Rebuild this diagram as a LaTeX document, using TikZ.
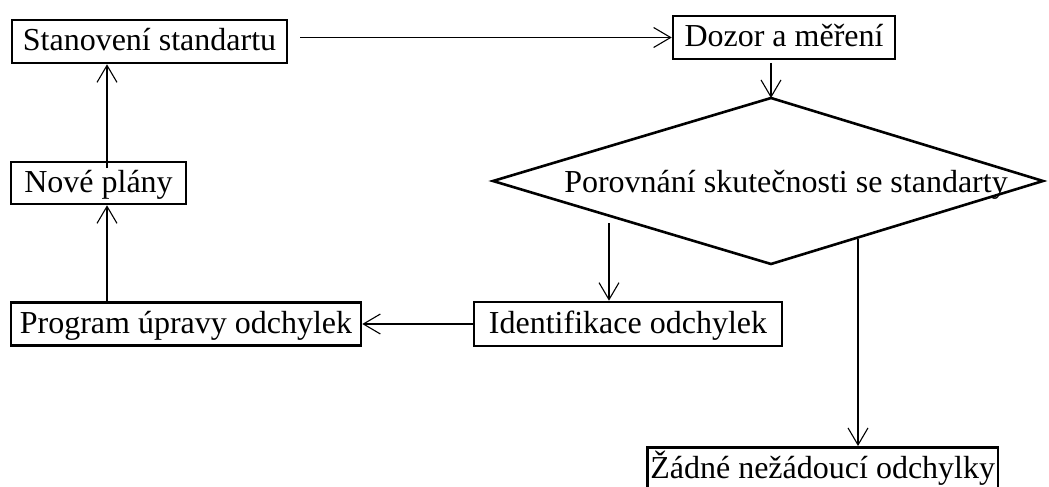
\documentclass[tikz,border=0pt]{standalone}
\usepackage{fontspec}
\setmainfont{Liberation Serif}
\usetikzlibrary{arrows.meta}
\begin{document}
\begin{tikzpicture}[x=1pt,y=-1pt,
  txt/.style={font=\fontsize{32}{38}\selectfont,text height=25pt,text depth=7pt},
  box/.style={txt,draw,line width=2.6pt,inner sep=0pt,anchor=center},
  flow/.style={line width=1.1pt,-{Straight Barb[length=17pt,width=20pt,line width=1.1pt]}}]
\useasboundingbox (0,0) rectangle (1049,487);
\clip (0,0) rectangle (1049,487);

% process boxes
\node[box,minimum width=275pt,minimum height=43pt] (stan)  at (149.5,41.5) {Stanovení standartu};
\node[box,minimum width=222pt,minimum height=43pt] (dozor) at (784,37.5) {Dozor a měření};
\node[box,minimum width=175pt,minimum height=42pt] (nove)  at (98.5,183) {Nové plány};
\node[box,minimum width=350pt,minimum height=43pt] (prog)  at (186,324) {Program úpravy odchylek};
\node[box,minimum width=308pt,minimum height=44pt] (ident) at (628,324) {Identifikace odchylek};
\node[box,minimum height=44pt,anchor=north west,inner xsep=3pt] (zadne) at (646,446) {Žádné nežádoucí odchylky};

% decision
\coordinate (dt) at (771,98);
\coordinate (dl) at (493,181);
\coordinate (db) at (771,264);
\coordinate (dr) at (1043,181);
\draw[line width=2.6pt,line join=miter] (dt) -- (dr) -- (db) -- (dl) -- cycle;
\node[txt,inner sep=0pt] (porov) at (786,183) {Porovnání skutečnosti se standarty};

% connectors
\coordinate (s1) at (300,0);
\coordinate (d1) at (771,63);
\coordinate (d2) at (609,223);
\coordinate (d3) at (858,239);
\coordinate (n1) at (107,168);
\draw[flow] (s1 |- dozor.west) -- (dozor.west);
\draw[flow] (d1) -- (dt);
\draw[flow] (d2) -- (d2 |- ident.north);
\draw[flow] (d3) -- (d3 |- zadne.north);
\draw[flow] (ident.west) -- (prog.east);
\draw[flow] (prog.north -| n1) -- (n1 |- nove.south);
\draw[flow] (n1) -- (n1 |- stan.south);
\end{tikzpicture}
\end{document}
